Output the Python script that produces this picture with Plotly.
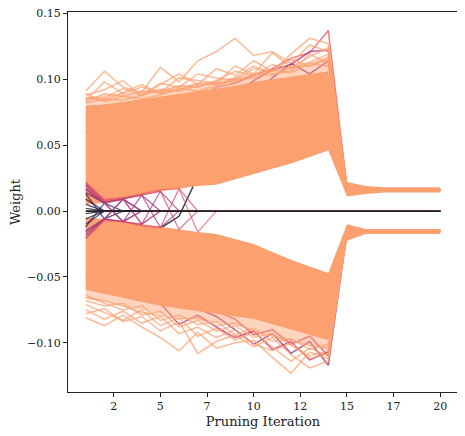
import plotly.graph_objects as go

# pruning iterations (x) and axis ticks
iterations = list(range(1, 21))
x_tick_pos = [2.5, 5, 7.5, 10, 12.5, 15, 17.5, 20]
x_tick_labels = ['2', '5', '7', '10', '12', '15', '17', '20']
y_tick_pos = [-0.10, -0.05, 0.00, 0.05, 0.10, 0.15]
y_tick_labels = ['\u22120.10', '\u22120.05', '0.00', '0.05', '0.10', '0.15']

# dense band of surviving weights (upper / lower edges)
pos_hi = [0.080, 0.081, 0.083, 0.085, 0.087, 0.089, 0.091, 0.093, 0.095, 0.098,
          0.100, 0.102, 0.104, 0.106, 0.022, 0.019, 0.018, 0.018, 0.018, 0.018]
pos_lo = [0.005, 0.006, 0.009, 0.012, 0.015, 0.017, 0.019, 0.020, 0.024, 0.028,
          0.032, 0.036, 0.041, 0.046, 0.011, 0.013, 0.014, 0.014, 0.014, 0.014]
neg_hi = [-0.005, -0.006, -0.008, -0.010, -0.0125, -0.014, -0.016, -0.0175, -0.021, -0.025,
          -0.031, -0.037, -0.042, -0.047, -0.010, -0.0136, -0.0136, -0.0136, -0.0136, -0.0136]
neg_lo = [-0.060, -0.063, -0.066, -0.069, -0.072, -0.074, -0.076, -0.078, -0.080, -0.082,
          -0.086, -0.090, -0.094, -0.098, -0.0225, -0.0174, -0.0174, -0.0174, -0.0174, -0.0174]
# thinner fringe of lines just outside the dense band
pos_fringe = [0.086, 0.088, 0.089, 0.091, 0.093, 0.095, 0.097, 0.099, 0.102, 0.105,
              0.107, 0.110, 0.113, 0.117, 0.022, 0.019, 0.018, 0.018, 0.018, 0.018]
neg_fringe = [-0.066, -0.069, -0.072, -0.075, -0.078, -0.081, -0.083, -0.085, -0.087, -0.090,
              -0.094, -0.098, -0.102, -0.106, -0.0225, -0.0174, -0.0174, -0.0174, -0.0174, -0.0174]

# values after the collapse (iterations 15..20)
pos_tail = [0.018, 0.016, 0.016, 0.016, 0.016, 0.016]
neg_tail = [-0.016, -0.015, -0.015, -0.015, -0.015, -0.015]

# outlying weights, iterations 1..14 ; (values, colour level on magma)
pos_lines = [
    ([0.091, 0.106, 0.094, 0.090, 0.109, 0.098, 0.114, 0.121, 0.131, 0.118, 0.121, 0.112, 0.126, 0.121], 0.8),
    ([0.088, 0.092, 0.099, 0.087, 0.096, 0.104, 0.096, 0.108, 0.103, 0.114, 0.106, 0.119, 0.131, 0.127], 0.8),
    ([0.084, 0.098, 0.089, 0.094, 0.090, 0.101, 0.099, 0.097, 0.110, 0.104, 0.120, 0.109, 0.117, 0.124], 0.8),
    ([0.086, 0.086, 0.093, 0.088, 0.097, 0.094, 0.104, 0.101, 0.099, 0.108, 0.106, 0.115, 0.110, 0.117], 0.8),
    ([0.083, 0.089, 0.087, 0.091, 0.090, 0.095, 0.094, 0.099, 0.106, 0.103, 0.111, 0.108, 0.113, 0.119], 0.8),
    ([0.086, 0.084, 0.090, 0.096, 0.089, 0.092, 0.097, 0.096, 0.101, 0.110, 0.104, 0.106, 0.119, 0.112], 0.8),
    ([0.082, 0.085, 0.084, 0.088, 0.092, 0.091, 0.095, 0.097, 0.098, 0.104, 0.103, 0.109, 0.110, 0.115], 0.8),
    ([0.089, 0.083, 0.087, 0.085, 0.088, 0.093, 0.091, 0.095, 0.100, 0.101, 0.107, 0.105, 0.112, 0.110], 0.8),
    ([0.070, 0.072, 0.075, 0.078, 0.080, 0.083, 0.086, 0.094, 0.097, 0.103, 0.108, 0.116, 0.120, 0.137], 0.65),
    ([0.066, 0.068, 0.070, 0.073, 0.075, 0.078, 0.081, 0.085, 0.090, 0.099, 0.107, 0.111, 0.121, 0.122], 0.5),
    ([0.060, 0.062, 0.065, 0.068, 0.070, 0.074, 0.077, 0.080, 0.084, 0.090, 0.101, 0.112, 0.104, 0.114], 0.42),
]
neg_lines = [
    ([-0.081, -0.087, -0.079, -0.088, -0.096, -0.106, -0.092, -0.104, -0.100, -0.098, -0.111, -0.123, -0.107, -0.112], 0.8),
    ([-0.078, -0.074, -0.084, -0.080, -0.091, -0.084, -0.108, -0.099, -0.094, -0.103, -0.096, -0.109, -0.119, -0.114], 0.8),
    ([-0.075, -0.082, -0.076, -0.085, -0.080, -0.093, -0.088, -0.096, -0.090, -0.101, -0.106, -0.100, -0.112, -0.108], 0.8),
    ([-0.071, -0.077, -0.083, -0.075, -0.087, -0.081, -0.095, -0.089, -0.098, -0.092, -0.103, -0.114, -0.104, -0.110], 0.8),
    ([-0.068, -0.072, -0.070, -0.079, -0.076, -0.088, -0.083, -0.091, -0.087, -0.096, -0.093, -0.102, -0.110, -0.106], 0.8),
    ([-0.064, -0.070, -0.075, -0.072, -0.083, -0.079, -0.086, -0.084, -0.094, -0.089, -0.099, -0.097, -0.105, -0.101], 0.8),
    ([-0.066, -0.068, -0.072, -0.077, -0.079, -0.082, -0.081, -0.087, -0.085, -0.091, -0.095, -0.098, -0.102, -0.104], 0.8),
    ([-0.050, -0.054, -0.058, -0.062, -0.066, -0.070, -0.074, -0.080, -0.090, -0.101, -0.093, -0.108, -0.099, -0.117], 0.45),
    ([-0.052, -0.056, -0.060, -0.064, -0.070, -0.086, -0.079, -0.088, -0.096, -0.091, -0.105, -0.099, -0.113, -0.107], 0.5),
    ([-0.048, -0.052, -0.056, -0.060, -0.064, -0.068, -0.072, -0.076, -0.082, -0.094, -0.090, -0.101, -0.095, -0.110], 0.6),
]

# weights that flip sign and are then pruned (all 20 iterations)
pruned_lines = [
    ([0.002, 0, 0, 0, 0, 0, 0, 0, 0, 0, 0, 0, 0, 0, 0, 0, 0, 0, 0, 0], 0.0),
    ([-0.002, 0, 0, 0, 0, 0, 0, 0, 0, 0, 0, 0, 0, 0, 0, 0, 0, 0, 0, 0], 0.03),
    ([0.005, 0, 0, 0, 0, 0, 0, 0, 0, 0, 0, 0, 0, 0, 0, 0, 0, 0, 0, 0], 0.06),
    ([-0.006, 0, 0, 0, 0, 0, 0, 0, 0, 0, 0, 0, 0, 0, 0, 0, 0, 0, 0, 0], 0.08),
    ([0.009, 0, 0, 0, 0, 0, 0, 0, 0, 0, 0, 0, 0, 0, 0, 0, 0, 0, 0, 0], 0.1),
    ([-0.010, 0, 0, 0, 0, 0, 0, 0, 0, 0, 0, 0, 0, 0, 0, 0, 0, 0, 0, 0], 0.12),
    ([0.013, -0.006, 0, 0, 0, 0, 0, 0, 0, 0, 0, 0, 0, 0, 0, 0, 0, 0, 0, 0], 0.15),
    ([-0.012, 0.006, 0, 0, 0, 0, 0, 0, 0, 0, 0, 0, 0, 0, 0, 0, 0, 0, 0, 0], 0.18),
    ([0.014, 0.006, -0.008, 0, 0, 0, 0, 0, 0, 0, 0, 0, 0, 0, 0, 0, 0, 0, 0, 0], 0.25),
    ([-0.015, -0.006, 0.009, 0, 0, 0, 0, 0, 0, 0, 0, 0, 0, 0, 0, 0, 0, 0, 0, 0], 0.3),
    ([0.016, 0.006, -0.008, 0, 0, 0, 0, 0, 0, 0, 0, 0, 0, 0, 0, 0, 0, 0, 0, 0], 0.55),
    ([-0.016, -0.006, 0.009, 0, 0, 0, 0, 0, 0, 0, 0, 0, 0, 0, 0, 0, 0, 0, 0, 0], 0.5),
    ([0.017, 0.006, 0.009, -0.010, 0, 0, 0, 0, 0, 0, 0, 0, 0, 0, 0, 0, 0, 0, 0, 0], 0.35),
    ([-0.018, -0.006, -0.008, 0.012, 0, 0, 0, 0, 0, 0, 0, 0, 0, 0, 0, 0, 0, 0, 0, 0], 0.4),
    ([0.019, 0.006, 0.009, -0.010, 0, 0, 0, 0, 0, 0, 0, 0, 0, 0, 0, 0, 0, 0, 0, 0], 0.6),
    ([0.020, 0.007, 0.009, 0.012, -0.0125, 0, 0, 0, 0, 0, 0, 0, 0, 0, 0, 0, 0, 0, 0, 0], 0.45),
    ([-0.020, -0.006, -0.008, -0.010, 0.015, 0, 0, 0, 0, 0, 0, 0, 0, 0, 0, 0, 0, 0, 0, 0], 0.5),
    ([0.021, 0.008, 0.010, 0.012, 0.015, -0.014, 0, 0, 0, 0, 0, 0, 0, 0, 0, 0, 0, 0, 0, 0], 0.55),
    ([-0.021, -0.007, -0.008, -0.011, -0.0125, 0.017, 0, 0, 0, 0, 0, 0, 0, 0, 0, 0, 0, 0, 0, 0], 0.6),
    ([0.022, 0.009, 0.010, 0.013, 0.016, 0.017, -0.016, 0, 0, 0, 0, 0, 0, 0, 0, 0, 0, 0, 0, 0], 0.65),
]
# weights that cross zero late and stay in the band (drawn under the band)
late_lines = [
    ([-0.012, -0.008, -0.009, -0.011, -0.013, -0.004, 0.026, 0.031, 0.036, 0.040,
      0.045, 0.050, 0.056, 0.062], 0.05),
]
zero_line = [0, 0, 0, 0, 0, 0, 0, 0, 0, 0, 0, 0, 0, 0, 0, 0, 0, 0, 0, 0]

MAGMA = [(0.0, (0, 0, 4)), (0.1, (20, 14, 54)), (0.2, (59, 15, 112)), (0.3, (100, 26, 128)),
         (0.4, (140, 41, 129)), (0.5, (183, 55, 121)), (0.6, (222, 73, 104)),
         (0.7, (247, 112, 92)), (0.8, (254, 159, 109)), (0.9, (254, 207, 146)), (1.0, (252, 253, 191))]


def magma(t, alpha=1.0):
    for (t0, c0), (t1, c1) in zip(MAGMA[:-1], MAGMA[1:]):
        if t <= t1:
            f = (t - t0) / (t1 - t0)
            r, g, b = [round(a + (b_ - a) * f) for a, b_ in zip(c0, c1)]
            return f'rgba({r},{g},{b},{alpha})'
    return 'rgba(252,253,191,%s)' % alpha


def band(fig, hi, lo, color):
    fig.add_trace(go.Scatter(x=iterations + iterations[::-1], y=hi + lo[::-1],
                             fill='toself', fillcolor=color,
                             line=dict(width=0), mode='lines', hoverinfo='skip'))


fig = go.Figure()

# darker surviving weights go underneath the dense band, so they only show where they stick out
for vals, lvl in pos_lines + late_lines:
    if lvl < 0.8:
        fig.add_trace(go.Scatter(x=iterations, y=vals + pos_tail, mode='lines',
                                 line=dict(width=1.5, color=magma(lvl, 0.8))))
for vals, lvl in neg_lines:
    if lvl < 0.8:
        fig.add_trace(go.Scatter(x=iterations, y=vals + neg_tail, mode='lines',
                                 line=dict(width=1.5, color=magma(lvl, 0.8))))

# fringes, then dense bands
band(fig, pos_fringe, pos_hi, 'rgba(253,160,112,0.45)')
band(fig, neg_lo, neg_fringe, 'rgba(253,160,112,0.45)')
band(fig, pos_hi, pos_lo, 'rgb(253,160,112)')
band(fig, neg_hi, neg_lo, 'rgb(253,160,112)')

for vals, lvl in pos_lines:
    if lvl >= 0.8:
        fig.add_trace(go.Scatter(x=iterations, y=vals + pos_tail, mode='lines',
                                 line=dict(width=1.5, color=magma(lvl, 0.72))))
for vals, lvl in neg_lines:
    if lvl >= 0.8:
        fig.add_trace(go.Scatter(x=iterations, y=vals + neg_tail, mode='lines',
                                 line=dict(width=1.5, color=magma(lvl, 0.72))))
for vals, lvl in pruned_lines:
    fig.add_trace(go.Scatter(x=iterations, y=vals, mode='lines',
                             line=dict(width=1.3, color=magma(lvl, 0.7))))

fig.add_trace(go.Scatter(x=iterations, y=zero_line, mode='lines',
                         line=dict(width=1.8, color='#222222')))

# the page body adds an 8px offset, so the figure is sized to fit the 465x436 window
font = dict(family='DejaVu Serif', size=11, color='#222222')
fig.update_layout(
    width=457, height=428,
    margin=dict(l=60, r=7, t=4, b=44),
    paper_bgcolor='white', plot_bgcolor='white',
    showlegend=False,
    font=font,
    xaxis=dict(range=[0.05, 20.95], tickvals=x_tick_pos, ticktext=x_tick_labels,
               showgrid=False, zeroline=False, showline=True, mirror=True,
               linecolor='#222222', linewidth=1, ticks='outside', ticklen=4,
               tickcolor='#222222', automargin=False, ticklabeloverflow='allow',
               title=dict(text='Pruning Iteration', standoff=4)),
    yaxis=dict(range=[-0.1373, 0.151], tickvals=y_tick_pos, ticktext=y_tick_labels,
               showgrid=False, zeroline=False, showline=True, mirror=True,
               linecolor='#222222', linewidth=1, ticks='outside', ticklen=4,
               tickcolor='#222222', automargin=False, ticklabeloverflow='allow',
               title=dict(text='Weight', standoff=4)),
)

fig.write_html("out.html")
